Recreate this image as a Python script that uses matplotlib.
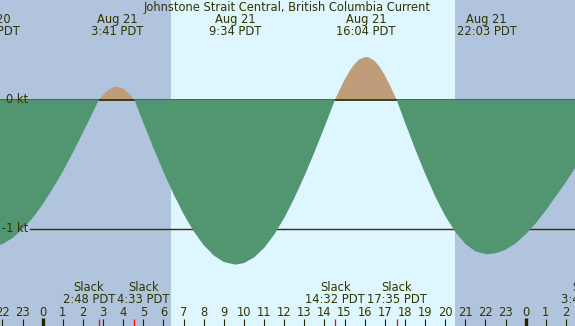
import numpy as np
import matplotlib
matplotlib.use('Agg')
import matplotlib.pyplot as plt
from matplotlib.transforms import offset_copy

# current speed (hours from Aug 21 00:00 PDT, knots)
hours = [-2.5, -2.0, -1.5, -1.0, -0.5, 0.0, 0.5, 1.0, 1.5, 2.0, 2.5,
         2.8, 3.0, 3.25, 3.5, 3.68, 4.0, 4.25, 4.55,
         5.0, 5.5, 6.0, 6.5, 7.0, 7.5, 8.0, 8.5, 9.0, 9.57,
         10.0, 10.5, 11.0, 11.5, 12.0, 12.5, 13.0, 13.5, 14.0,
         14.53, 14.75, 15.0, 15.25, 15.5, 15.75, 16.07,
         16.25, 16.5, 16.75, 17.0, 17.25, 17.58,
         18.0, 18.5, 19.0, 19.5, 20.0, 20.5, 21.0, 21.5, 22.05,
         22.5, 23.0, 23.5, 24.0, 24.5, 25.0, 25.5, 26.0, 26.5]
knots = [-1.146, -1.121, -1.074, -1.006, -0.919, -0.813, -0.690, -0.558, -0.411, -0.256, -0.097,
         0.0, 0.035, 0.072, 0.095, 0.100, 0.084, 0.052, 0.0,
         -0.180, -0.375, -0.561, -0.733, -0.888, -1.021, -1.129, -1.209, -1.260, -1.280,
         -1.268, -1.225, -1.151, -1.048, -0.919, -0.766, -0.595, -0.410, -0.214,
         0.0, 0.073, 0.152, 0.221, 0.276, 0.313, 0.330,
         0.324, 0.298, 0.251, 0.187, 0.111, 0.0,
         -0.177, -0.381, -0.574, -0.750, -0.902, -1.026, -1.119, -1.178, -1.200,
         -1.192, -1.165, -1.115, -1.045, -0.960, -0.860, -0.750, -0.640, -0.520]

# max current events
ext_times = [-2.62, 3.683, 9.567, 16.067, 22.05]
ext_dates = ["Aug 20", "Aug 21", "Aug 21", "Aug 21", "Aug 21"]
ext_clock = ["21:23 PDT", "3:41 PDT", "9:34 PDT", "16:04 PDT", "22:03 PDT"]

# slack events
slack_times = [2.8, 4.55, 14.533, 17.583, 27.717]
slack_clock = ["2:48 PDT", "4:33 PDT", "14:32 PDT", "17:35 PDT", "3:43 PDT"]
slack_nudge = [-10, 9, 0, 0, -13]   # px, so labels don't overlap

sunrise, sunset = 6.37, 20.49
hour_ticks = list(range(-2, 27))

night = '#b0c4de'
day = '#ddf6ff'
ebb_col = '#519670'
flood_col = '#bf9c7a'
txt = '#333300'

W, H = 575, 326
fig = plt.figure(figsize=(W / 100, H / 100), dpi=100)
ax = fig.add_axes([0, 0, 1, 1])
ax.set_xlim(-42.7 / 20.125, (W - 42.7) / 20.125)
ax.set_ylim(-(H - 99.5) / 129, 99.5 / 129)
ax.axis('off')
fig.patch.set_facecolor(night)
ax.add_patch(plt.Rectangle((0, 0), 1, 1, transform=ax.transAxes, color=night, zorder=0))
ax.axvspan(sunrise, sunset, color=day, zorder=0.5, lw=0)

t = np.array(hours)
v = np.array(knots)
ax.fill_between(t, 0, np.clip(v, 0, None), color=flood_col, lw=0, zorder=1)
ax.axhline(0, color='#222200', lw=1.2, zorder=2)
ax.axhline(-1, xmin=30 / W, color=txt, lw=1, zorder=2)
ax.fill_between(t, np.clip(v, None, 0), 0, color=ebb_col, lw=0, zorder=3)

fs = 8.3
ax.text(28 / W, 0, "0 kt", transform=ax.get_yaxis_transform(), ha='right', va='center',
        fontsize=fs, color=txt, zorder=5)
ax.text(28 / W, -1, "-1 kt", transform=ax.get_yaxis_transform(), ha='right', va='center',
        fontsize=fs, color=txt, zorder=5)

xt = ax.get_xaxis_transform()
ax.text(0.5, 1 - 7.5 / H, "Johnstone Strait Central, British Columbia Current", transform=ax.transAxes,
        ha='center', va='center', fontsize=fs, color=txt, zorder=5)
for tm, d, c in zip(ext_times, ext_dates, ext_clock):
    ax.text(tm, 1 - 20 / H, d, transform=xt, ha='center', va='center', fontsize=fs, color=txt, zorder=5)
    ax.text(tm, 1 - 31.5 / H, c, transform=xt, ha='center', va='center', fontsize=fs, color=txt, zorder=5)

for tm, c, dx in zip(slack_times, slack_clock, slack_nudge):
    tr = offset_copy(xt, fig=fig, x=dx, y=0, units='dots')
    ax.text(tm, 1 - 287.5 / H, "Slack", transform=tr, ha='center', va='center', fontsize=fs, color=txt, zorder=5)
    ax.text(tm, 1 - 299.5 / H, c, transform=tr, ha='center', va='center', fontsize=fs, color=txt, zorder=5)
    ax.vlines(tm, 0, 7.5 / H, transform=xt, color='#ff0000', lw=0.9, zorder=6)

for h in hour_ticks:
    lab = str(h % 24)
    ax.text(h, 1 - 312 / H, lab, transform=xt, ha='center', va='center', fontsize=fs, color=txt, zorder=5)
    if h % 24 == 0:
        ax.vlines(h, 0, 8 / H, transform=xt, color='#222200', lw=2.4, zorder=6)
    else:
        ax.vlines(h, 0, 7 / H, transform=xt, color='#222200', lw=0.8, zorder=6)

fig.savefig('out.png', dpi=100, facecolor=night)
